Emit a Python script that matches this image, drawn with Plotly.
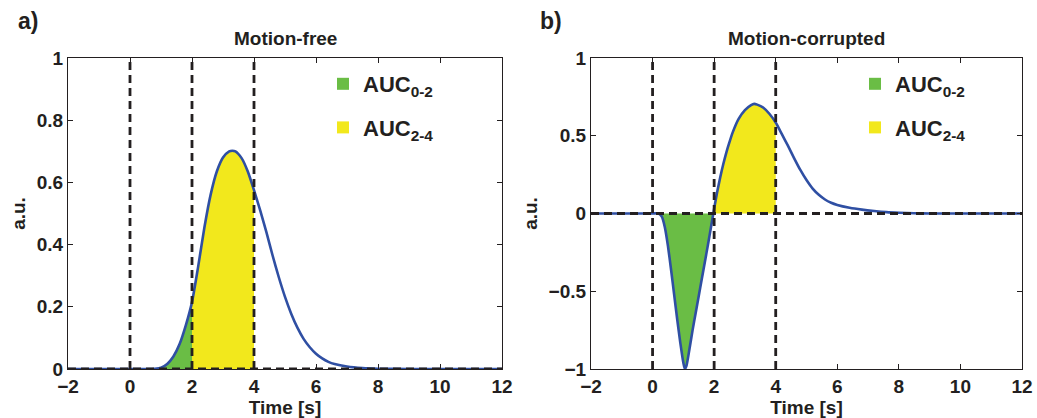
import plotly.graph_objects as go

# ---------------- data ----------------
time_free = [-2, -1, 0, 0.5, 0.8, 1.0, 1.2, 1.4, 1.6, 1.8, 2.0, 2.2, 2.4, 2.6, 2.8, 3.0,
             3.2, 3.3, 3.4, 3.6, 3.8, 4.0, 4.2, 4.4, 4.6, 4.8, 5.0, 5.2, 5.4, 5.6, 5.8,
             6.0, 6.2, 6.4, 6.6, 7.0, 7.5, 8.0, 9.0, 10.0, 11.0, 12.0]
signal_free = [0, 0, 0, 0, 0.001, 0.004, 0.016, 0.04, 0.08, 0.14, 0.215, 0.33, 0.455, 0.56,
               0.635, 0.68, 0.70, 0.702, 0.70, 0.678, 0.635, 0.575, 0.51, 0.44, 0.365, 0.295,
               0.232, 0.178, 0.133, 0.097, 0.07, 0.049, 0.034, 0.023, 0.016, 0.008, 0.003,
               0.001, 0, 0, 0, 0]

time_corr = [-2, -1, 0, 0.2, 0.3, 0.4, 0.5, 0.6, 0.7, 0.8, 0.9, 1.0, 1.05, 1.1, 1.2, 1.3,
             1.4, 1.5, 1.6, 1.7, 1.8, 1.9, 2.0, 2.1, 2.2, 2.3, 2.4, 2.5, 2.6, 2.8, 3.0,
             3.2, 3.3, 3.4, 3.6, 3.8, 4.0, 4.2, 4.4, 4.6, 4.8, 5.0, 5.2, 5.4, 5.6, 5.8,
             6.0, 6.4, 6.8, 7.2, 7.6, 8.0, 8.5, 9.0, 10.0, 11.0, 12.0]
signal_corr = [0, 0, 0, 0, -0.02, -0.09, -0.21, -0.36, -0.52, -0.68, -0.83, -0.96, -1.0,
               -0.98, -0.87, -0.75, -0.64, -0.53, -0.42, -0.31, -0.20, -0.085, 0.03, 0.14,
               0.235, 0.32, 0.395, 0.46, 0.52, 0.61, 0.665, 0.697, 0.705, 0.70, 0.68,
               0.64, 0.585, 0.51, 0.435, 0.355, 0.28, 0.215, 0.16, 0.12, 0.09, 0.069,
               0.055, 0.037, 0.025, 0.016, 0.009, 0.005, 0.002, 0, 0, 0, 0]

marker_times = [0, 2, 4]          # dashed vertical lines
baseline = [0]                    # dashed horizontal line
window_early = [0, 2]             # AUC 0-2
window_late = [2, 4]              # AUC 2-4

panel_titles = ["Motion-free", "Motion-corrupted"]
panel_letters = ["a)", "b)"]
legend_names = ["<b>AUC<sub>0-2</sub></b>", "<b>AUC<sub>2-4</sub></b>"]

# ---------------- styles ----------------
BLUE = "#2F4FA3"
GREEN = "#6ABD45"
YELLOW = "#F2E81C"
INK = "#231F20"
FONT = "Liberation Sans, Arial, Helvetica, sans-serif"
W, H = 1037, 418

fig = go.Figure()


def window(xs, ys, lo, hi):
    pts = [(x, y) for x, y in zip(xs, ys) if lo <= x <= hi]
    return [p[0] for p in pts], [p[1] for p in pts]


panels = [
    dict(x=time_free, y=signal_free, xa="x", ya="y", legend="legend"),
    dict(x=time_corr, y=signal_corr, xa="x2", ya="y2", legend="legend2"),
]

for p in panels:
    ex, ey = window(p["x"], p["y"], *window_early)
    lx, ly = window(p["x"], p["y"], *window_late)
    fig.add_trace(go.Scatter(x=ex, y=ey, mode="lines", fill="tozeroy", fillcolor=GREEN,
                             line=dict(width=0, color=GREEN, shape="spline", smoothing=0.6),
                             xaxis=p["xa"], yaxis=p["ya"], showlegend=False, hoverinfo="skip"))
    fig.add_trace(go.Scatter(x=lx, y=ly, mode="lines", fill="tozeroy", fillcolor=YELLOW,
                             line=dict(width=0, color=YELLOW, shape="spline", smoothing=0.6),
                             xaxis=p["xa"], yaxis=p["ya"], showlegend=False, hoverinfo="skip"))
    fig.add_trace(go.Scatter(x=p["x"], y=p["y"], mode="lines",
                             line=dict(width=2.6, color=BLUE, shape="spline", smoothing=0.6),
                             xaxis=p["xa"], yaxis=p["ya"], showlegend=False))
    # legend entries
    for name, col, grp in zip(legend_names, [GREEN, YELLOW], ["g1", "g2"]):
        fig.add_trace(go.Scatter(x=[None], y=[None], mode="markers", name=name,
                                 marker=dict(symbol="square", size=13, color=col),
                                 xaxis=p["xa"], yaxis=p["ya"], legend=p["legend"],
                                 legendgroup=grp, showlegend=True))
    # dashed reference lines
    for t in marker_times:
        fig.add_shape(type="line", xref=p["xa"], yref=p["ya"] + " domain",
                      x0=t, x1=t, y0=0, y1=1, layer="above",
                      line=dict(color=INK, width=2.8, dash="8px,5px"))
    for b in baseline:
        fig.add_shape(type="line", xref=p["xa"] + " domain", yref=p["ya"],
                      x0=0, x1=1, y0=b, y1=b, layer="above",
                      line=dict(color=INK, width=2.8, dash="8px,5px"))

# ---------------- layout ----------------
x_dom = [[68 / W, 502 / W], [591 / W, 1022 / W]]
y_dom = [(H - 369) / H, (H - 58) / H]

axis_common = dict(showgrid=False, zeroline=False, showline=True, linecolor=INK, linewidth=1.3,
                   mirror="ticks", ticks="inside", ticklen=5, tickwidth=1.2, tickcolor=INK,
                   tickfont=dict(family=FONT, size=19, color=INK, weight="bold"),
                   tickprefix="<b>", ticksuffix="</b>",
                   automargin=False)
title_font = dict(size=19, family=FONT, color=INK)

fig.update_layout(
    width=W, height=H, margin=dict(l=0, r=0, t=0, b=0),
    paper_bgcolor="white", plot_bgcolor="white",
    font=dict(family=FONT, color=INK),
    xaxis=dict(domain=x_dom[0], range=[-2, 12], dtick=2, anchor="y",
               title=dict(text="<b>Time [s]</b>", font=title_font, standoff=0),
               **axis_common),
    yaxis=dict(domain=y_dom, range=[0, 1], dtick=0.2, anchor="x",
               title=dict(text="<b>a.u.</b>", font=title_font, standoff=5),
               **axis_common),
    xaxis2=dict(domain=x_dom[1], range=[-2, 12], dtick=2, anchor="y2",
                title=dict(text="<b>Time [s]</b>", font=title_font, standoff=0),
                **axis_common),
    yaxis2=dict(domain=y_dom, range=[-1, 1], dtick=0.5, anchor="x2",
                title=dict(text="<b>a.u.</b>", font=title_font, standoff=5),
                **axis_common),
    legend=dict(x=323 / W, y=(H - 63) / H, xanchor="left", yanchor="top",
                bgcolor="rgba(0,0,0,0)", font=dict(family=FONT, size=22, color=INK),
                traceorder="grouped", tracegroupgap=12, itemsizing="constant"),
    legend2=dict(x=855 / W, y=(H - 63) / H, xanchor="left", yanchor="top",
                 bgcolor="rgba(0,0,0,0)", font=dict(family=FONT, size=22, color=INK),
                 traceorder="grouped", tracegroupgap=12, itemsizing="constant"),
    showlegend=True,
)

for i, (title, letter) in enumerate(zip(panel_titles, panel_letters)):
    cx = (x_dom[i][0] + x_dom[i][1]) / 2
    fig.add_annotation(text=f"<b>{title}</b>", x=cx, y=(H - 39) / H, xref="paper", yref="paper",
                       showarrow=False, font=dict(family=FONT, size=19, color=INK),
                       xanchor="center", yanchor="middle")
    fig.add_annotation(text=f"<b>{letter}</b>", x=(16 if i == 0 else 538) / W, y=(H - 21) / H,
                       xref="paper", yref="paper", showarrow=False,
                       font=dict(family=FONT, size=23, color=INK), xanchor="left", yanchor="middle")

fig.write_html("out.html")
